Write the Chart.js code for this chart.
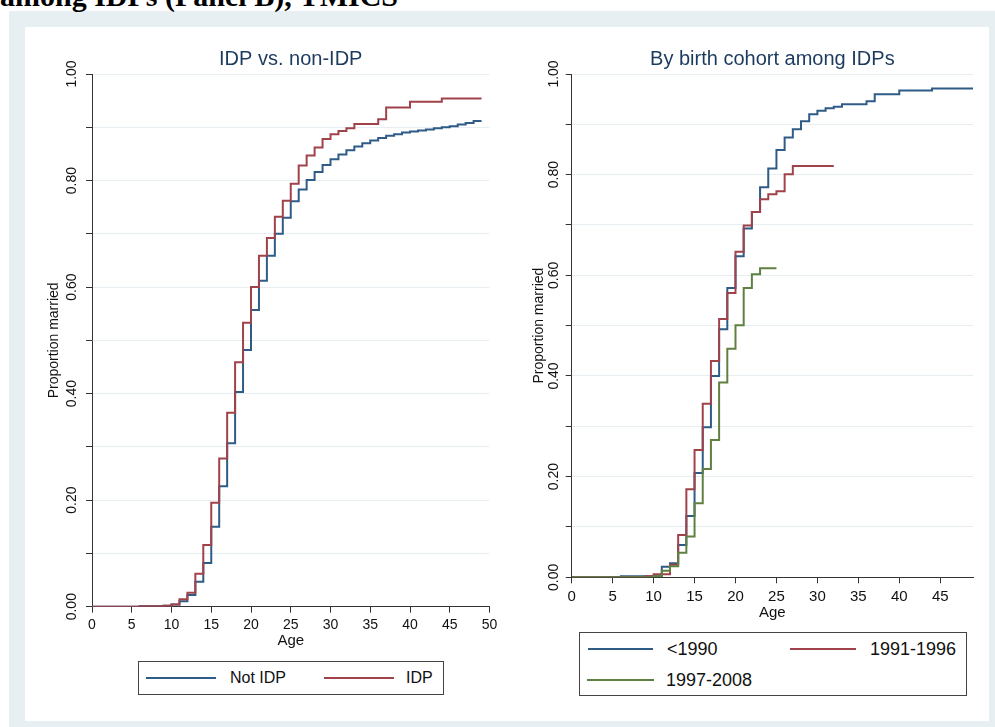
<!DOCTYPE html>
<html>
<head>
<meta charset="utf-8">
<script src="https://cdn.jsdelivr.net/npm/chart.js@4.4.1/dist/chart.umd.min.js"></script>
<style>
  body { margin: 0; width: 995px; height: 727px; overflow: hidden; background: #fff; position: relative; font-family: 'Liberation Sans', Arial, sans-serif; }
  #frame { position: absolute; left: 9px; top: 11px; width: 986px; height: 716px; background: #e8eff2; }
  #panel { position: absolute; left: 25px; top: 27px; width: 964px; height: 694px; background: #fff; }
  #heading { position: absolute; left: 0; top: -19px; font: bold 30px/30px 'Liberation Serif', 'Times New Roman', serif; white-space: nowrap; color: #000; }
  canvas { position: absolute; }
  .legend { position: absolute; border: 1px solid #444; box-sizing: border-box; background: #fff; }
  .key { position: absolute; height: 2px; }
  .lab { position: absolute; transform: translateY(-50%); white-space: nowrap; color: #111; }
</style>
</head>
<body>
<div id="frame"></div>
<div id="panel"></div>
<div id="heading">among IDPs (Panel B), YMICS</div>
<canvas id="leftChart" width="480" height="630" style="left:25px;top:27px;width:480px;height:630px"></canvas>
<canvas id="rightChart" width="480" height="630" style="left:505px;top:27px;width:480px;height:630px"></canvas>
<div id="leftLegend" class="legend" style="left:138px;top:661px;width:306px;height:34px"></div>
<div id="rightLegend" class="legend" style="left:579px;top:632px;width:388px;height:64px"></div>
<script>
// age in years (each value holds from that age until the next one)
const ages = [0, 1, 2, 3, 4, 5, 6, 7, 8, 9, 10, 11, 12, 13, 14, 15, 16, 17, 18, 19,
  20, 21, 22, 23, 24, 25, 26, 27, 28, 29, 30, 31, 32, 33, 34, 35, 36, 37, 38, 39,
  40, 41, 42, 43, 44, 45, 46, 47, 48, 49];

// Panel A: IDP vs. non-IDP
const notIdp = [0, 0, 0, 0, 0, 0, 0.001, 0.001, 0.001, 0.002, 0.004, 0.010, 0.022, 0.047, 0.082,
  0.150, 0.226, 0.307, 0.403, 0.482, 0.557, 0.612, 0.659, 0.700, 0.730, 0.761, 0.783, 0.801,
  0.816, 0.829, 0.840, 0.849, 0.857, 0.864, 0.870, 0.875, 0.880, 0.884, 0.887, 0.890, 0.892,
  0.894, 0.896, 0.898, 0.900, 0.902, 0.905, 0.908, 0.912, 0.912];
const idp = [0, 0, 0, 0, 0, 0, 0.001, 0.001, 0.001, 0.002, 0.004, 0.014, 0.026, 0.062, 0.116,
  0.195, 0.278, 0.364, 0.459, 0.533, 0.600, 0.659, 0.692, 0.732, 0.762, 0.794, 0.828, 0.847,
  0.862, 0.878, 0.887, 0.893, 0.898, 0.906, 0.906, 0.906, 0.915, 0.937, 0.937, 0.937, 0.948,
  0.948, 0.948, 0.948, 0.954, 0.954, 0.954, 0.954, 0.954, 0.954];

// Panel B: birth cohorts among IDPs
const cohortPre1990 = [0, 0, 0, 0, 0, 0, 0.002, 0.002, 0.002, 0.002, 0.002, 0.021, 0.028, 0.064,
  0.122, 0.207, 0.298, 0.400, 0.493, 0.575, 0.638, 0.693, 0.726, 0.775, 0.812, 0.849, 0.874,
  0.890, 0.906, 0.920, 0.927, 0.932, 0.935, 0.940, 0.940, 0.940, 0.946, 0.960, 0.960, 0.960,
  0.967, 0.967, 0.967, 0.967, 0.971, 0.971, 0.971, 0.971, 0.971, 0.971];
const cohort1991 = [0, 0, 0, 0, 0, 0, 0, 0, 0, 0.002, 0.006, 0.006, 0.025, 0.084, 0.175, 0.253,
  0.345, 0.430, 0.513, 0.565, 0.647, 0.699, 0.726, 0.751, 0.761, 0.767, 0.801, 0.817, 0.817,
  0.817, 0.817, 0.817, 0.817];
const cohort1997 = [0, 0, 0, 0, 0, 0, 0, 0, 0, 0, 0.002, 0.013, 0.022, 0.049, 0.081, 0.147,
  0.215, 0.273, 0.387, 0.454, 0.501, 0.575, 0.602, 0.614, 0.614, 0.614];

const yLabelValues = [0, 0.2, 0.4, 0.6, 0.8, 1.0];

const BLUE = '#2f5b87';
const RED = '#a0424a';
const GREEN = '#5f8040';
const AXIS = '#333';
const GRID = '#e6eef1';
const TEXT = '#111';

Chart.defaults.font.family = "'Liberation Sans', Arial, sans-serif";
Chart.defaults.color = TEXT;

function toPoints(values) {
    return values.map((v, i) => ({ x: ages[i], y: v }));
}

function series(label, values, color, order) {
    return {
        label: label,
        data: toPoints(values),
        borderColor: color,
        borderWidth: 2,
        pointRadius: 0,
        stepped: 'before',
        fill: false,
        order: order
    };
}

function makeChart(id, title, datasets, opt) {
    new Chart(document.getElementById(id), {
        type: 'line',
        data: { datasets: datasets },
        options: {
            responsive: false,
            animation: false,
            devicePixelRatio: 1,
            layout: { padding: { left: 0, right: opt.padRight, top: 0, bottom: 0 } },
            plugins: {
                legend: { display: false },
                tooltip: { enabled: false },
                title: {
                    display: true,
                    text: title,
                    fullSize: false,
                    color: '#1c3a5e',
                    font: { size: 20, weight: 'normal' },
                    padding: { top: 20.5, bottom: 2.5 }
                }
            },
            scales: {
                x: {
                    type: 'linear',
                    min: 0,
                    max: opt.xMax,
                    afterFit: s => { s.height = opt.xHeight; },
                    border: { color: AXIS, width: 1 },
                    grid: { drawOnChartArea: false, tickColor: AXIS, tickLength: 6 },
                    ticks: { stepSize: 5, includeBounds: false, maxRotation: 0, padding: opt.xTickPad, color: TEXT, font: { size: opt.xFont } },
                    title: { display: true, text: 'Age', color: TEXT, font: { size: 15 }, padding: { top: 0, bottom: opt.ageBottom } }
                },
                y: {
                    min: 0,
                    max: 1,
                    afterFit: s => { s.width = opt.yWidth; },
                    border: { color: AXIS, width: 1 },
                    grid: { color: GRID, tickColor: AXIS, tickLength: 6 },
                    ticks: {
                        stepSize: 0.1,
                        minRotation: 90,
                        maxRotation: 90,
                        crossAlign: 'center',
                        padding: opt.yTickPad,
                        color: TEXT,
                        font: { size: 14 },
                        callback: v => {
                            const hit = yLabelValues.find(t => Math.abs(t - v) < 1e-6);
                            return hit === undefined ? '' : hit.toFixed(2);
                        }
                    },
                    title: { display: true, text: 'Proportion married', color: TEXT, font: { size: 14 }, padding: { top: opt.yTitlePad, bottom: 0 } }
                }
            }
        }
    });
}

makeChart('leftChart', 'IDP vs. non-IDP', [
    series('Not IDP', notIdp, BLUE, 2),
    series('IDP', idp, RED, 1)
], { padRight: 15.5, xMax: 50, xHeight: 50.3, xTickPad: 3.6, xFont: 14, ageBottom: 7.5, yWidth: 67, yTickPad: 0, yTitlePad: 20.6 });

makeChart('rightChart', 'By birth cohort among IDPs', [
    series('<1990', cohortPre1990, BLUE, 3),
    series('1991-1996', cohort1991, RED, 2),
    series('1997-2008', cohort1997, GREEN, 1)
], { padRight: 12, xMax: 49, xHeight: 79.7, xTickPad: 4.4, xFont: 15, ageBottom: 35.5, yWidth: 66.7, yTickPad: -1.9, yTitlePad: 25.6 });

// legends (Stata style boxes), positions relative to each box
function buildLegend(boxId, items, fontSize) {
    const box = document.getElementById(boxId);
    items.forEach(it => {
        const key = document.createElement('div');
        key.className = 'key';
        key.style.left = it.keyX + 'px';
        key.style.top = (it.y - 1) + 'px';
        key.style.width = it.keyW + 'px';
        key.style.background = it.color;
        box.appendChild(key);
        const lab = document.createElement('div');
        lab.className = 'lab';
        lab.style.left = it.textX + 'px';
        lab.style.top = it.y + 'px';
        lab.style.fontSize = fontSize + 'px';
        lab.textContent = it.label;
        box.appendChild(lab);
    });
}

buildLegend('leftLegend', [
    { label: 'Not IDP', color: BLUE, keyX: 7, keyW: 70, textX: 91, y: 16 },
    { label: 'IDP', color: RED, keyX: 185, keyW: 70, textX: 267, y: 16 }
], 16);

buildLegend('rightLegend', [
    { label: '<1990', color: BLUE, keyX: 8, keyW: 65, textX: 87, y: 16 },
    { label: '1991-1996', color: RED, keyX: 210, keyW: 66, textX: 290, y: 16 },
    { label: '1997-2008', color: GREEN, keyX: 7, keyW: 67, textX: 86, y: 47 }
], 18);
</script>
</body>
</html>
